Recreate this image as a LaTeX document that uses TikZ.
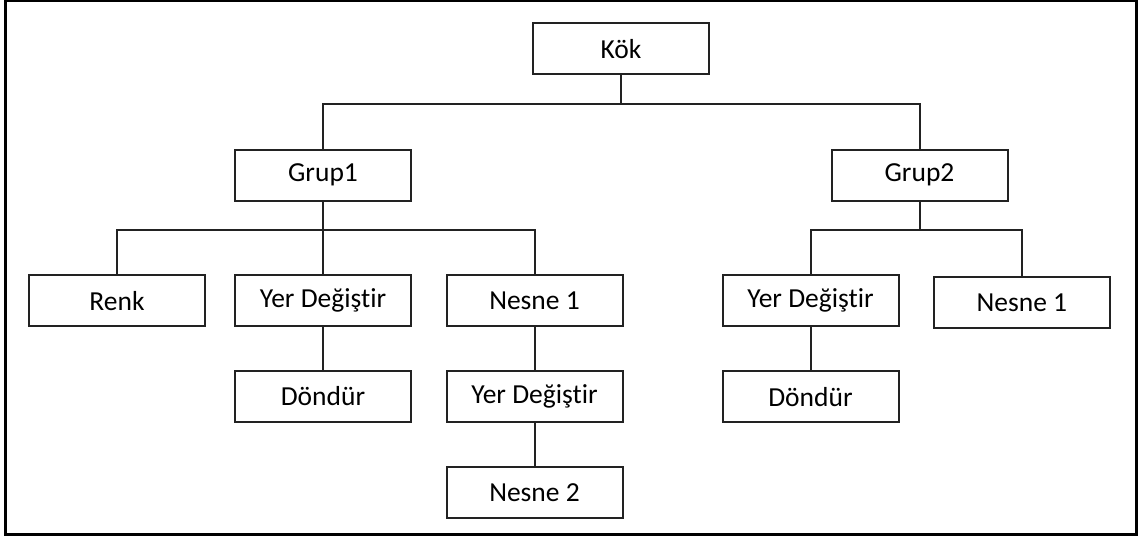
\documentclass[tikz,border=0pt]{standalone}
\usepackage{fontspec}
\setmainfont{Carlito}[Ligatures={NoCommon,NoRequired,NoContextual}]
\definecolor{edge}{HTML}{222222}
\begin{document}
\begin{tikzpicture}[x=1pt,y=-1pt,
  treebox/.style={draw=edge, line width=2pt, fill=white, minimum width=176pt,
    minimum height=51pt, inner sep=0pt, font=\fontsize{27.5}{31}\selectfont},
  link/.style={draw=edge, line width=2pt}]
\useasboundingbox (0,0) rectangle (1143,538);
\draw[line width=3pt, black] (5.3,0.3) rectangle (1136,534.5);

% nodes
\node[treebox] (kok) at (621,48.7) {Kök};
\node[treebox] (g1) at (323,175) {Grup1};
\node[treebox] (g2) at (919.5,175) {Grup2};
\node[treebox] (renk) at (117,300.7) {Renk};
\node[treebox] (yd1) at (323,300.5) {Yer Değiştir};
\node[treebox] (n1) at (534.5,300.5) {Nesne 1};
\node[treebox] (d1) at (323,396.5) {Döndür};
\node[treebox] (yd3) at (534.5,396.5) {Yer Değiştir};
\node[treebox] (n2) at (534.5,492.5) {Nesne 2};
\node[treebox] (yd2) at (810.5,300.7) {Yer Değiştir};
\node[treebox] (n1b) at (1021.9,302.5) {Nesne 1};
\node[treebox] (d2) at (810.5,396.7) {Döndür};

% connectors
\coordinate (busA) at (0,104.3);
\coordinate (busB) at (0,230.2);
\draw[link] (kok.south) -- (kok.south |- busA) -| (g1.north);
\draw[link] (kok.south |- busA) -| (g2.north);
\draw[link] (g1.south) -- (g1.south |- busB) -| (renk.north);
\draw[link] (g1.south |- busB) -| (n1.north);
\draw[link] (g1.south) -- (yd1.north);
\draw[link] (g2.south) -- (g2.south |- busB) -| (yd2.north);
\draw[link] (g2.south |- busB) -| (n1b.north);
\draw[link] (yd1.south) -- (d1.north);
\draw[link] (n1.south) -- (yd3.north);
\draw[link] (yd3.south) -- (n2.north);
\draw[link] (yd2.south) -- (d2.north);
\end{tikzpicture}
\end{document}
